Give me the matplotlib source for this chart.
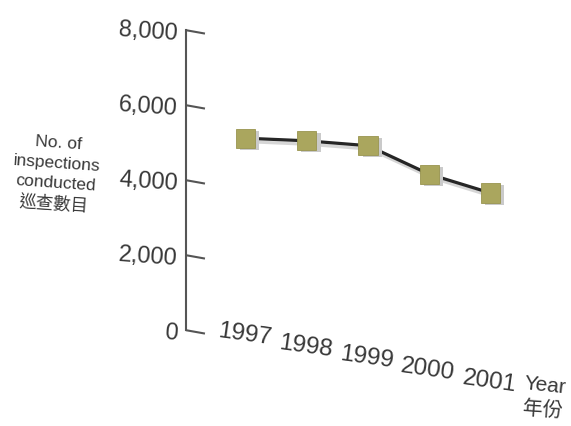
import matplotlib
matplotlib.use("Agg")
import matplotlib.pyplot as plt
import matplotlib.patheffects as pe

plt.rcParams['font.family'] = ['Liberation Sans', 'Noto Sans CJK TC', 'DejaVu Sans']

# Data
years = ["1997", "1998", "1999", "2000", "2001"]
inspections = [5120, 5050, 4920, 4160, 3660]
y_ticks = [0, 2000, 4000, 6000, 8000]
y_tick_labels = ["0", "2,000", "4,000", "6,000", "8,000"]

W, H = 571, 427
fig = plt.figure(figsize=(W / 100, H / 100), dpi=100)
fig.patch.set_facecolor("white")

ax_left, ax_bottom, ax_right, ax_top = 186, 331.2, 540, 31.2
ax = fig.add_axes([ax_left / W, 1 - ax_bottom / H,
                   (ax_right - ax_left) / W, (ax_bottom - ax_top) / H])
ax.set_xlim(-0.975, 4.81)
ax.set_ylim(0, 8000)
ax.set_facecolor("none")

for side in ("top", "right", "bottom"):
    ax.spines[side].set_visible(False)
ax.spines["left"].set_color("#555555")
ax.spines["left"].set_linewidth(1.5)

text_color = "#383838"

# y tick labels, with hand-drawn slanted tick marks
ax.set_yticks(y_ticks, labels=y_tick_labels)
ax.set_xticks([])
ax.tick_params(axis="y", length=0, pad=6, labelsize=17, labelcolor=text_color)
for lab in ax.get_yticklabels():
    lab.set_rotation(-4)
    lab.set_rotation_mode("anchor")

x0 = ax.get_xlim()[0]
tick_len = 0.31      # in category units
tick_drop = 90       # in value units
for t in y_ticks:
    ax.plot([x0, x0 + tick_len], [t, t - tick_drop], color="#555555",
            lw=1.5, solid_capstyle="butt", clip_on=False, zorder=1)

xs = list(range(len(years)))

# Line with soft shadow
ax.plot(xs, inspections, color="#262626", lw=2.3, zorder=2,
        path_effects=[pe.SimpleLineShadow(offset=(1.5, -2.5), shadow_color="#9a9a9a",
                                          alpha=0.4),
                      pe.Normal()])

# Square markers with shadow
ax.plot(xs, inspections, ls="none", marker="s", ms=13.8, mfc="#aaa65e",
        mec="#99954f", mew=0.6, zorder=3,
        path_effects=[pe.SimplePatchShadow(offset=(3, -1.5), shadow_rgbFace="#cacaca",
                                           alpha=1.0),
                      pe.Normal()])

# Year labels running along a descending baseline
for i, yr in enumerate(years):
    ax.annotate(yr, xy=(i, 0), xytext=(-1, -(2.7 + 8.4 * i)),
                textcoords="offset points", ha="center", va="center",
                fontsize=17.5, color=text_color, rotation=-8,
                annotation_clip=False)

# Axis titles
fig.text(545 / W, 1 - 386 / H, "Year", ha="center", va="center",
         fontsize=15, color=text_color, rotation=-6)
fig.text(543 / W, 1 - 410 / H, "年份", ha="center", va="center",
         fontsize=14.5, color=text_color, rotation=-4)
fig.text(56 / W, 1 - 174 / H, "No. of\ninspections\nconducted\n巡查數目",
         ha="center", va="center", fontsize=12.5, color=text_color,
         linespacing=1.4, rotation=-4)

fig.savefig("out.png", dpi=100, facecolor="white")
